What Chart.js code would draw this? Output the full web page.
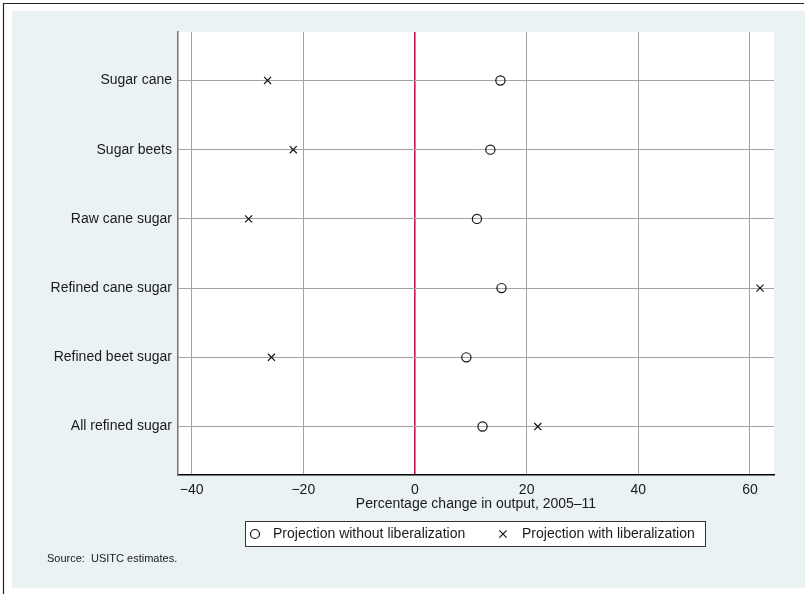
<!DOCTYPE html>
<html>
<head>
<meta charset="utf-8">
<script src="https://cdn.jsdelivr.net/npm/chart.js@4"></script>
<style>
  body { margin: 0; background: #fff; }
  canvas { display: block; }
</style>
</head>
<body>
<canvas id="sugarChart" width="807" height="594"></canvas>
<script>
// data
const categories = ['Sugar cane', 'Sugar beets', 'Raw cane sugar', 'Refined cane sugar', 'Refined beet sugar', 'All refined sugar'];
const withoutLib = [15.3, 13.5, 11.1, 15.5, 9.2, 12.1];   // circles
const withLib = [-26.4, -21.8, -29.8, 61.8, -25.7, 22.0];  // crosses
const xTicks = [-40, -20, 0, 20, 40, 60];

const FONT = 'Liberation Sans, Arial, Helvetica, sans-serif';
const TXT = '#1a1a1a';
const GRID = '#a3a3a3';
const ZERO = '#c8174a';

// panel backgrounds, frame, legend box and source note
const frame = {
  id: 'frame',
  beforeDraw(chart) {
    const c = chart.ctx, a = chart.chartArea;
    c.save();
    c.fillStyle = '#fff';
    c.fillRect(0, 0, chart.width, chart.height);
    c.fillStyle = 'rgb(234,242,243)';
    c.fillRect(12, 11, 793, 577);
    c.fillStyle = '#fff';
    c.fillRect(a.left, a.top, a.right - a.left, a.bottom - a.top);
    c.strokeStyle = '#222';
    c.lineWidth = 1.2;
    c.beginPath();
    c.moveTo(3.5, 594); c.lineTo(3.5, 3.5); c.lineTo(804, 3.5);
    c.stroke();
    c.restore();
  },
  afterDraw(chart) {
    const c = chart.ctx;
    const ds = chart.data.datasets;
    c.save();
    // legend
    c.fillStyle = '#fff';
    c.fillRect(245.5, 521.5, 460, 25);
    c.strokeStyle = '#333';
    c.lineWidth = 1;
    c.strokeRect(245.5, 521.5, 460, 25);
    const items = [{mx: 255, tx: 273}, {mx: 503, tx: 522}];
    const cy = 534;
    c.font = '14px ' + FONT;
    c.textBaseline = 'middle';
    items.forEach((it, i) => {
      c.strokeStyle = '#111';
      c.lineWidth = 1.2;
      c.beginPath();
      if (ds[i].pointStyle === 'circle') {
        c.arc(it.mx, cy, 4.5, 0, Math.PI * 2);
      } else {
        c.moveTo(it.mx - 3.6, cy - 3.6); c.lineTo(it.mx + 3.6, cy + 3.6);
        c.moveTo(it.mx - 3.6, cy + 3.6); c.lineTo(it.mx + 3.6, cy - 3.6);
      }
      c.stroke();
      c.fillStyle = TXT;
      c.fillText(ds[i].label, it.tx, cy);
    });
    // source
    c.font = '11px ' + FONT;
    c.fillText('Source:  USITC estimates.', 47, 559);
    c.restore();
  }
};

const ctx = document.getElementById('sugarChart');

new Chart(ctx, {
  type: 'scatter',
  data: {
    datasets: [{
      label: 'Projection without liberalization',
      data: withoutLib.map((v, i) => ({x: v, y: i + 1})),
      pointStyle: 'circle',
      pointRadius: 4.6,
      borderWidth: 1.2,
      borderColor: '#111',
      backgroundColor: 'rgba(0,0,0,0)'
    }, {
      label: 'Projection with liberalization',
      data: withLib.map((v, i) => ({x: v, y: i + 1})),
      pointStyle: 'crossRot',
      pointRadius: 5,
      borderWidth: 1.2,
      borderColor: '#111',
      backgroundColor: '#111'
    }]
  },
  options: {
    responsive: false,
    animation: false,
    layout: {padding: {left: 0, top: 32, right: 33, bottom: 79}},
    plugins: {
      legend: {display: false},
      tooltip: {enabled: false}
    },
    scales: {
      x: {
        type: 'linear',
        min: -42.44,
        max: 64.3,
        afterBuildTicks: s => { s.ticks = xTicks.map(v => ({value: v})); },
        afterFit: s => { s.height = 40; },
        grid: {
          color: c => (c.tick && c.tick.value === 0) ? ZERO : GRID,
          lineWidth: c => (c.tick && c.tick.value === 0) ? 1.6 : 1,
          drawTicks: false
        },
        border: {color: '#000', width: 1.5},
        ticks: {
          padding: 7,
          color: TXT,
          font: {family: FONT, size: 14},
          callback: v => v < 0 ? '\u2212' + Math.abs(v) : String(v)
        },
        title: {
          display: true,
          text: 'Percentage change in output, 2005\u201311',
          color: TXT,
          font: {family: FONT, size: 14},
          padding: {top: 0, bottom: 2}
        }
      },
      y: {
        type: 'linear',
        reverse: true,
        min: 0.3,
        max: 6.7,
        afterBuildTicks: s => { s.ticks = categories.map((c, i) => ({value: i + 1})); },
        afterFit: s => { s.width = 178; },
        grid: {color: GRID, lineWidth: 1, drawTicks: false},
        border: {color: '#777', width: 1.5},
        ticks: {
          padding: 6,
          color: TXT,
          font: {family: FONT, size: 14},
          callback: v => categories[v - 1]
        }
      }
    }
  },
  plugins: [frame]
});
</script>
</body>
</html>
